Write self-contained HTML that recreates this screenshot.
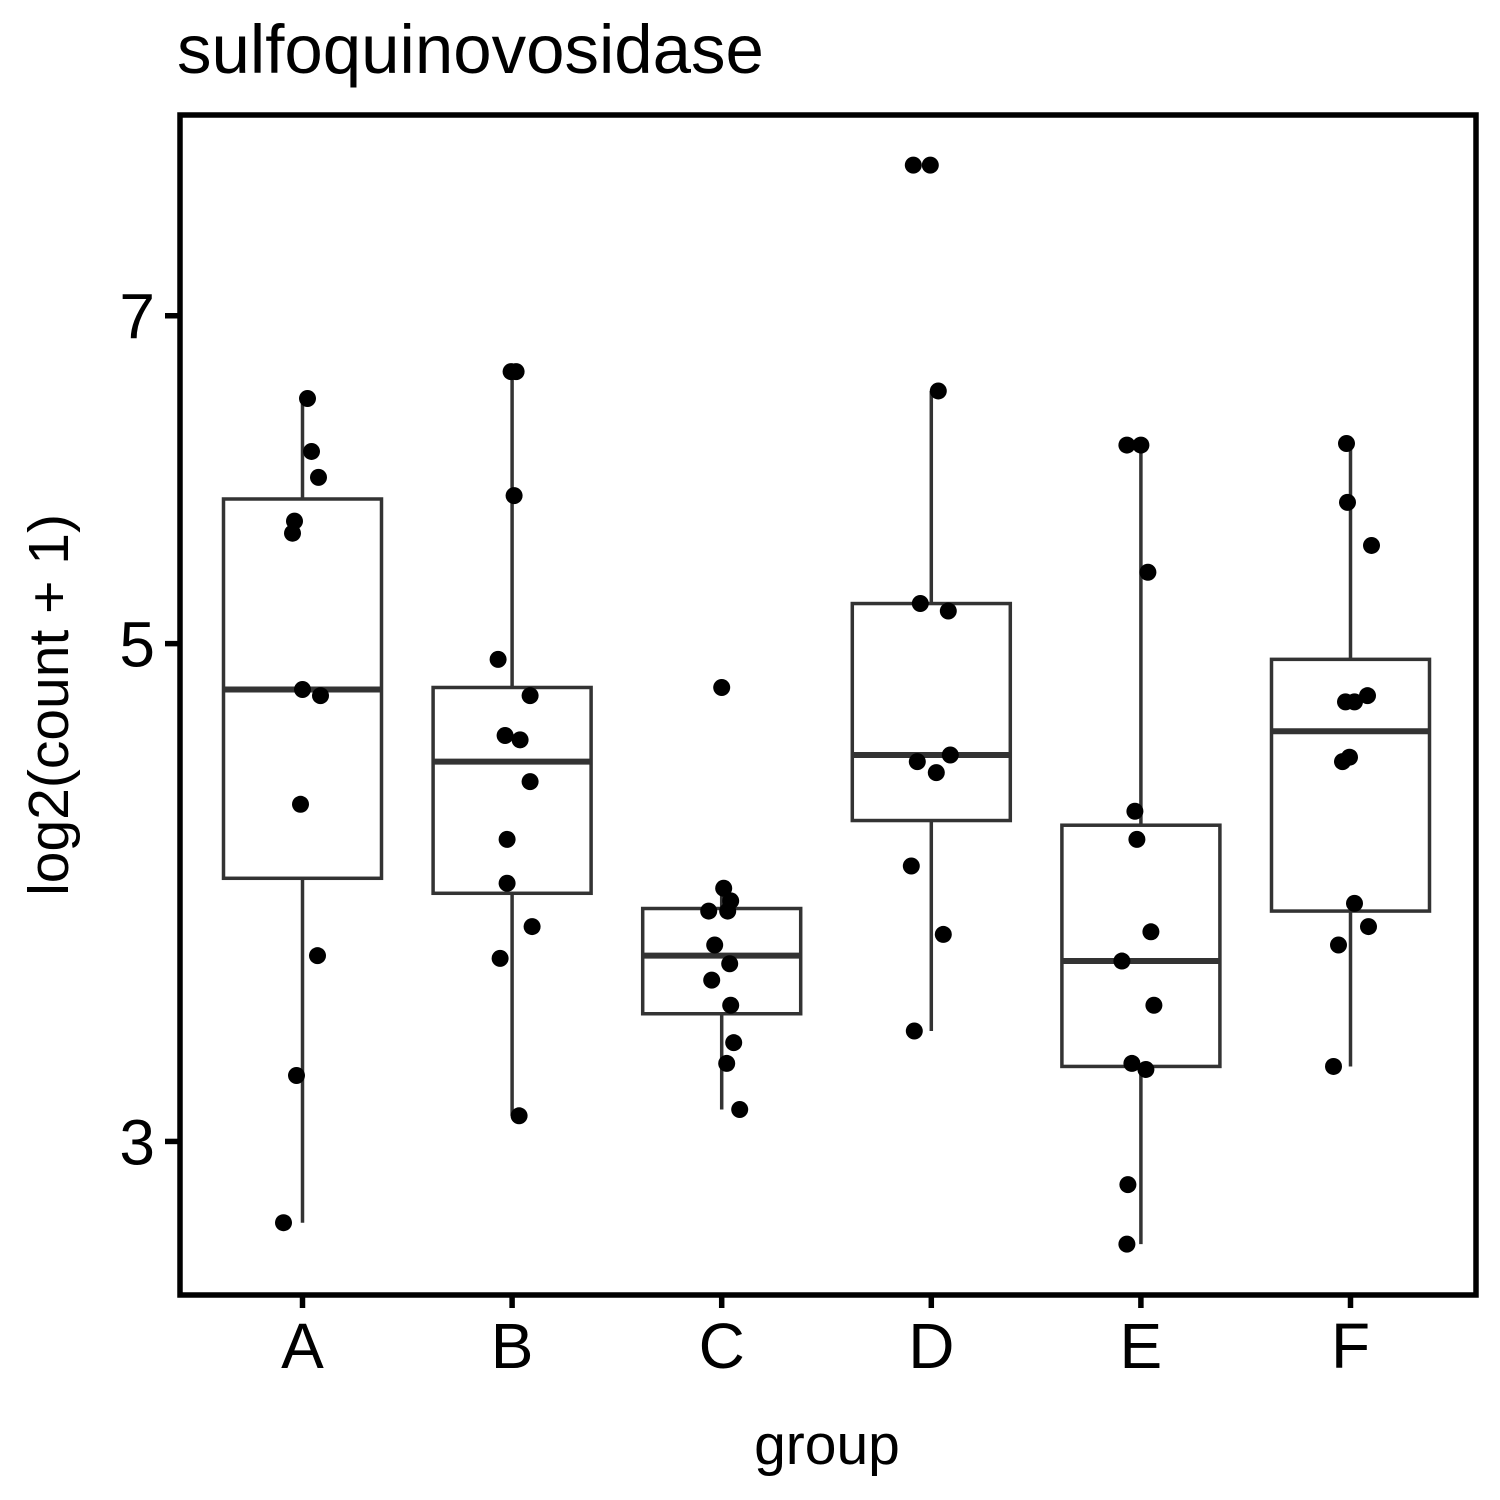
<!DOCTYPE html>
<html><head><meta charset="utf-8"><style>
html,body{margin:0;padding:0;background:#fff;}
svg{display:block;font-family:"Liberation Sans",Arial,sans-serif;}
</style></head><body>
<svg id="chart" width="1500" height="1500" viewBox="0 0 1500 1500" xmlns="http://www.w3.org/2000/svg">
<rect width="1500" height="1500" fill="#fff"/>
<text x="177" y="73" font-size="69">sulfoquinovosidase</text>
<text x="827" y="1464" font-size="57" text-anchor="middle">group</text>
<text transform="translate(68,705) rotate(-90)" font-size="57" text-anchor="middle">log2(count + 1)</text>
<g id="marks"></g>
<rect x="180" y="115" width="1296" height="1180" fill="none" stroke="#000" stroke-width="5.5"/>
</svg>
<script>
const categories = ["A","B","C","D","E","F"];
const boxLower = [3.93, 3.87, 3.42, 4.17, 3.24, 3.80];
const boxMedian = [4.77, 4.43, 3.63, 4.46, 3.61, 4.57];
const boxUpper = [5.80, 4.78, 3.81, 5.21, 4.15, 4.92];
const whiskerLow = [2.76, 3.08, 3.10, 3.36, 2.70, 3.24];
const whiskerHigh = [6.43, 6.61, 3.89, 6.48, 6.13, 6.14];
const pointsA = [6.43, 6.09, 5.93, 5.67, 5.60, 4.77, 4.74, 4.24, 3.63, 3.21, 2.76];
const pointsB = [6.61, 6.61, 5.82, 4.92, 4.74, 4.55, 4.53, 4.34, 4.09, 3.91, 3.74, 3.62, 3.08];
const pointsC = [4.78, 3.89, 3.84, 3.80, 3.80, 3.67, 3.60, 3.54, 3.45, 3.32, 3.25, 3.10];
const pointsD = [8.17, 8.17, 6.48, 5.21, 5.17, 4.43, 4.46, 4.38, 3.98, 3.71, 3.36];
const pointsE = [6.13, 6.13, 5.38, 4.21, 4.09, 3.72, 3.61, 3.45, 3.25, 3.23, 2.87, 2.70];
const pointsF = [6.14, 5.78, 5.53, 4.74, 4.71, 4.71, 4.45, 4.43, 3.83, 3.74, 3.67, 3.24];
const jitterA = [5, 9, 16, -8, -10, 0, 18, -2, 15, -6, -19];
const jitterB = [-1, 4, 2, -14, 18, -7, 8, 18, -5, -5, 20, -12, 7];
const jitterC = [0, 2, 9, -13, 6, -7, 8, -10, 9, 12, 5, 18];
const jitterD = [-18, -1, 7, -11, 17, -14, 19, 5, -20, 12, -17];
const jitterE = [-14, 0, 7, -6, -4, 10, -19, 13, -9, 5, -13, -14];
const jitterF = [-4, -3, 21, 17, -5, 4, -1, -8, 4, 18, -12, -17];
const yTicks = [3, 5, 7];
const allPoints = [pointsA, pointsB, pointsC, pointsD, pointsE, pointsF];
const allJitter = [jitterA, jitterB, jitterC, jitterD, jitterE, jitterF];

const NS = "http://www.w3.org/2000/svg";
const plotL = 180, plotR = 1476, plotT = 114, plotB = 1296;
const yMin = 2.56, yMax = 8.61;
function yScale(v){ return plotB - (Math.log(v)-Math.log(yMin))/(Math.log(yMax)-Math.log(yMin))*(plotB-plotT); }
const band = 209.6;
function xScale(i){ return 302.5 + band*i; }
const g = document.getElementById("marks");
function mk(tag, attrs){ const e=document.createElementNS(NS,tag); for(const k in attrs) e.setAttribute(k,attrs[k]); g.appendChild(e); return e; }
const hw = 79;

categories.forEach((c,i)=>{
  const x = xScale(i);
  let e = mk("line",{x1:x,x2:x,y1:yScale(whiskerHigh[i]),y2:yScale(boxUpper[i]),stroke:"#333","stroke-width":3.5});
  
  
  e = mk("line",{x1:x,x2:x,y1:yScale(boxLower[i]),y2:yScale(whiskerLow[i]),stroke:"#333","stroke-width":3.5});
  
  
  e = mk("rect",{x:x-hw,y:yScale(boxUpper[i]),width:2*hw,height:yScale(boxLower[i])-yScale(boxUpper[i]),fill:"#fff",stroke:"#333","stroke-width":3.5});
  
  
  e = mk("line",{x1:x-hw,x2:x+hw,y1:yScale(boxMedian[i]),y2:yScale(boxMedian[i]),stroke:"#333","stroke-width":6});
  
  
  allPoints[i].forEach((v,j)=>{
    const p = mk("circle",{cx:x+allJitter[i][j],cy:yScale(v),r:8.5,fill:"#000"});
    
    
  });
  e = mk("line",{x1:x,x2:x,y1:plotB,y2:plotB+12,stroke:"#000","stroke-width":5.5});
  
  
  e = mk("text",{x:x,y:1368,"font-size":64,"text-anchor":"middle"});
  e.textContent = c;
  
  
});
yTicks.forEach(t=>{
  const y = yScale(t);
  let e = mk("line",{x1:165,x2:plotL,y1:y,y2:y,stroke:"#000","stroke-width":5.5});
  
  
  e = mk("text",{x:155,y:y+23,"font-size":64,"text-anchor":"end"});
  e.textContent = t;
  
  
});
</script>
</body></html>
